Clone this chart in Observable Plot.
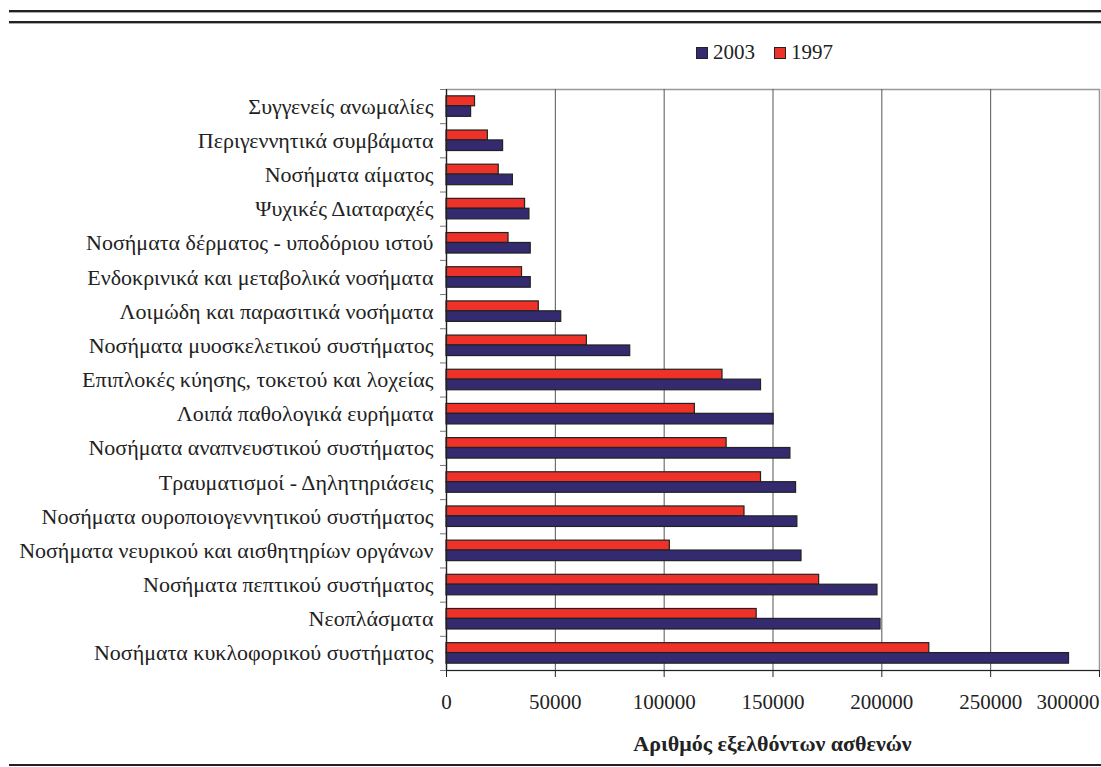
<!DOCTYPE html>
<html>
<head>
<meta charset="utf-8">
<script src="https://cdn.jsdelivr.net/npm/d3@7"></script>
<script src="https://cdn.jsdelivr.net/npm/@observablehq/plot@0.6"></script>
<style>
  html, body { margin: 0; padding: 0; background: #fff; }
  body { width: 1101px; font-family: "Liberation Serif", "DejaVu Serif", serif; color: #222; }
  #header { position: relative; height: 70px; }
  .rule { position: absolute; left: 9px; right: 0; height: 2px; background: #222; box-shadow: 0 1px 0 #aaa; }
  #legend { position: absolute; left: 696px; top: 40px; font-size: 21px; display: flex; align-items: center; white-space: nowrap; }
  .sw { display: inline-block; width: 10px; height: 10px; border: 1px solid #222; margin-right: 5px; }
  .item { display: flex; align-items: center; margin-right: 19px; }
  #caption { height: 45px; position: relative; }
  #xtitle { position: absolute; left: 446px; width: 653px; top: 11px; text-align: center; font-weight: bold; font-size: 22px; }
  #bottomrule { position: absolute; left: 9px; right: 0; height: 2px; background: #222; }
</style>
</head>
<body>
<div id="header">
  <div class="rule" style="top:10px"></div>
  <div class="rule" style="top:21px"></div>
  <div id="legend"></div>
</div>
<div id="chart"></div>
<div id="caption"><div id="xtitle"></div></div>
<div style="position:relative;height:2px;"><div id="bottomrule" style="top:-1px"></div></div>
<script>
const categories = [
  "Συγγενείς ανωμαλίες",
  "Περιγεννητικά συμβάματα",
  "Νοσήματα αίματος",
  "Ψυχικές Διαταραχές",
  "Νοσήματα δέρματος - υποδόριου ιστού",
  "Ενδοκρινικά και μεταβολικά νοσήματα",
  "Λοιμώδη και παρασιτικά νοσήματα",
  "Νοσήματα μυοσκελετικού συστήματος",
  "Επιπλοκές κύησης, τοκετού και λοχείας",
  "Λοιπά παθολογικά ευρήματα",
  "Νοσήματα αναπνευστικού συστήματος",
  "Τραυματισμοί - Δηλητηριάσεις",
  "Νοσήματα ουροποιογεννητικού συστήματος",
  "Νοσήματα νευρικού και αισθητηρίων οργάνων",
  "Νοσήματα πεπτικού συστήματος",
  "Νεοπλάσματα",
  "Νοσήματα κυκλοφορικού συστήματος"
];
const v2003 = [11300, 26000, 30500, 38100, 38700, 38700, 52700, 84400, 144500, 150300, 158000, 160600, 161200, 163100, 198000, 199400, 286000];
const v1997 = [13100, 19000, 24000, 36100, 28500, 34700, 42400, 64500, 126800, 114100, 128700, 144500, 136900, 102600, 171200, 142500, 221800];
const series = ["2003", "1997"];
const seriesColors = ["#332a70", "#ee3129"];
const xTicks = [0, 50000, 100000, 150000, 200000, 250000, 300000];
const xTickLabels = ["0", "50000", "100000", "150000", "200000", "250000", "300000"];
const xTitle = "Αριθμός εξελθόντων ασθενών";

// build rows
const rows = categories.flatMap((c, i) => [
  {cat: c, i, year: "1997", value: v1997[i]},
  {cat: c, i, year: "2003", value: v2003[i]}
]);
const bandPos = {"1997": [0.2, 0.49], "2003": [0.49, 0.8]};
const labelOf = new Map(xTicks.map((t, k) => [t, xTickLabels[k]]));
const n = categories.length;

const chart = Plot.plot({
  width: 1101,
  height: 650,
  marginTop: 19,
  marginBottom: 50,
  marginLeft: 446,
  marginRight: 2,
  style: {fontFamily: "'Liberation Serif', serif", fontSize: "21px", color: "#222", background: "#fff"},
  x: {domain: [0, 300000], label: null},
  y: {domain: [0, n], reverse: true, label: null},
  color: {domain: series, range: seriesColors},
  marks: [
    Plot.frame({stroke: "#999", strokeWidth: 1.5}),
    Plot.ruleX(xTicks.filter(d => d > 0 && d < 300000), {stroke: "#555", strokeWidth: 1}),
    Plot.rect(rows, {
      x1: 0,
      x2: "value",
      y1: d => d.i + bandPos[d.year][0],
      y2: d => d.i + bandPos[d.year][1],
      fill: "year",
      stroke: "#222",
      strokeWidth: 1.2
    }),
    Plot.ruleX([0], {stroke: "#222", strokeWidth: 1.2}),
    Plot.ruleY([n], {stroke: "#222", strokeWidth: 1.2}),
    Plot.axisY(d3.range(n + 1), {tickSize: 6, tickFormat: () => "", stroke: "#777", label: null}),
    Plot.axisY(d3.range(n).map(i => i + 0.5), {tickSize: 0, tickPadding: 13, tickFormat: d => categories[Math.floor(d)], label: null, fontSize: 22}),
    Plot.axisX(xTicks.slice(0, -1), {tickSize: 7, tickPadding: 17, tickFormat: d => labelOf.get(d), label: null, stroke: "#222", fontSize: 21}),
    Plot.axisX(xTicks.slice(-1), {tickSize: 7, tickPadding: 17, tickFormat: d => labelOf.get(d), label: null, textAnchor: "end", stroke: "#222", fontSize: 21})
  ]
});
document.getElementById("chart").appendChild(chart);

// legend
const legend = document.getElementById("legend");
series.forEach((s, k) => {
  const it = document.createElement("div");
  it.className = "item";
  const sw = document.createElement("span");
  sw.className = "sw";
  sw.style.background = seriesColors[k];
  it.appendChild(sw);
  it.appendChild(document.createTextNode(s));
  legend.appendChild(it);
});
document.getElementById("xtitle").textContent = xTitle;
</script>
</body>
</html>
